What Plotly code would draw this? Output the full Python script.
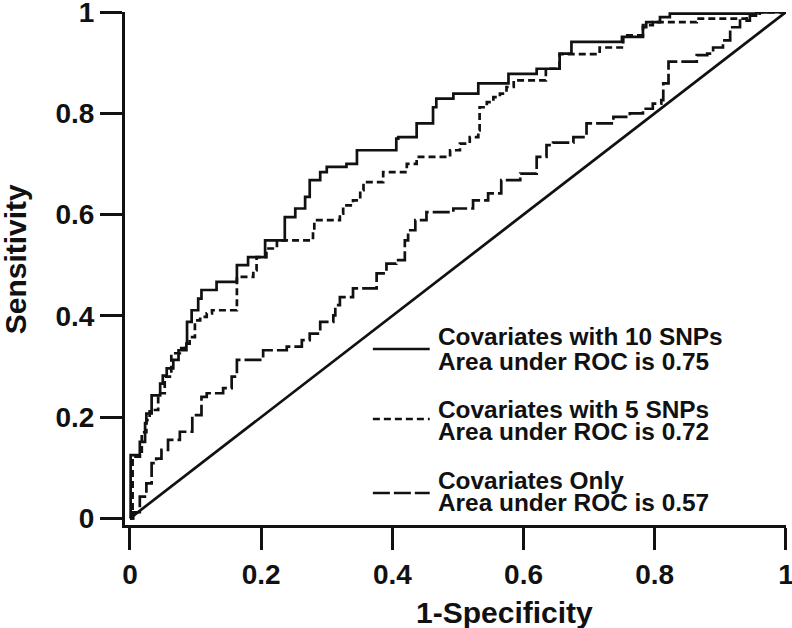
import plotly.graph_objects as go

# ---------------- data ----------------
fpr_10 = [0, 0.001, 0.015, 0.023, 0.025, 0.033, 0.046, 0.050, 0.056, 0.066, 0.074, 0.086, 0.087, 0.094, 0.104,
          0.109, 0.132, 0.163, 0.180, 0.206, 0.236, 0.252, 0.267, 0.274, 0.290, 0.300, 0.330, 0.346, 0.406, 0.409,
          0.437, 0.462, 0.467, 0.493, 0.531, 0.577, 0.620, 0.655, 0.673, 0.750, 0.782, 0.787, 0.808, 0.823, 0.955, 1.0]
tpr_10 = [0, 0.125, 0.151, 0.188, 0.207, 0.243, 0.266, 0.282, 0.296, 0.313, 0.332, 0.345, 0.388, 0.411, 0.434,
          0.451, 0.467, 0.500, 0.516, 0.549, 0.595, 0.612, 0.635, 0.668, 0.684, 0.694, 0.700, 0.727, 0.750, 0.753,
          0.780, 0.812, 0.829, 0.839, 0.859, 0.878, 0.888, 0.918, 0.941, 0.951, 0.970, 0.980, 0.990, 0.997, 1.0, 1.0]

fpr_5 = [0, 0.004, 0.018, 0.025, 0.030, 0.043, 0.053, 0.063, 0.076, 0.084, 0.091, 0.099, 0.107, 0.117, 0.125,
         0.163, 0.188, 0.193, 0.208, 0.224, 0.279, 0.281, 0.320, 0.325, 0.340, 0.351, 0.356, 0.386, 0.422, 0.437,
         0.488, 0.503, 0.518, 0.531, 0.533, 0.544, 0.554, 0.564, 0.574, 0.585, 0.634, 0.655, 0.716, 0.752, 0.782,
         0.797, 0.864, 0.940, 0.960, 1.0]
tpr_5 = [0, 0.122, 0.170, 0.194, 0.214, 0.247, 0.280, 0.326, 0.336, 0.345, 0.358, 0.391, 0.398, 0.405, 0.411,
         0.477, 0.490, 0.516, 0.533, 0.549, 0.569, 0.589, 0.602, 0.618, 0.628, 0.648, 0.664, 0.684, 0.700, 0.714,
         0.727, 0.740, 0.753, 0.766, 0.812, 0.822, 0.832, 0.839, 0.852, 0.865, 0.888, 0.917, 0.930, 0.954, 0.974,
         0.980, 0.987, 0.993, 1.0, 1.0]

fpr_cov = [0, 0.005, 0.015, 0.025, 0.033, 0.040, 0.048, 0.058, 0.076, 0.095, 0.109, 0.117, 0.142, 0.155, 0.163,
           0.203, 0.239, 0.262, 0.274, 0.290, 0.310, 0.313, 0.320, 0.340, 0.376, 0.391, 0.406, 0.419, 0.424, 0.435,
           0.452, 0.493, 0.523, 0.546, 0.566, 0.595, 0.620, 0.635, 0.645, 0.676, 0.696, 0.737, 0.762, 0.782, 0.797,
           0.810, 0.813, 0.821, 0.864, 0.880, 0.889, 0.904, 0.915, 0.930, 0.945, 0.960, 1.0]
tpr_cov = [0, 0.012, 0.043, 0.069, 0.109, 0.118, 0.135, 0.155, 0.171, 0.204, 0.240, 0.247, 0.257, 0.280, 0.313,
           0.332, 0.339, 0.352, 0.365, 0.388, 0.401, 0.421, 0.437, 0.454, 0.484, 0.503, 0.510, 0.549, 0.569, 0.589,
           0.605, 0.612, 0.628, 0.642, 0.668, 0.681, 0.714, 0.737, 0.742, 0.753, 0.780, 0.793, 0.800, 0.809, 0.819,
           0.826, 0.859, 0.902, 0.915, 0.918, 0.930, 0.944, 0.970, 0.983, 0.993, 1.0, 1.0]

chance_x = [0, 1]
chance_y = [0, 1]

series_line1 = ["Covariates with 10 SNPs", "Covariates with 5 SNPs", "Covariates Only"]
series_auc = [0.75, 0.72, 0.57]

tick_vals = [0, 0.2, 0.4, 0.6, 0.8, 1]
tick_text = ["0", "0.2", "0.4", "0.6", "0.8", "1"]

x_title = "1-Specificity"
y_title = "Sensitivity"

# ---------------- styles ----------------
FONT = "Liberation Sans, Arial, Helvetica, sans-serif"
INK = "#111111"
LW = 2.7
dashes = ["solid", "7px,4px", "17px,4px"]

fig = go.Figure()
curves = [(fpr_10, tpr_10), (fpr_5, tpr_5), (fpr_cov, tpr_cov)]
for (xs, ys), name, d in zip(curves, series_line1, dashes):
    fig.add_trace(go.Scatter(x=xs, y=ys, mode="lines", name=name, line_shape="hv",
                             line=dict(color=INK, width=LW, dash=d), showlegend=False))

fig.add_trace(go.Scatter(x=chance_x, y=chance_y, mode="lines", line=dict(color=INK, width=LW),
                         showlegend=False, name="chance"))

axis_common = dict(
    showline=True, linecolor=INK, linewidth=3, mirror=False,
    ticks="outside", ticklen=22, tickwidth=3, tickcolor=INK,
    tickvals=tick_vals, ticktext=tick_text,
    tickfont=dict(family=FONT, size=28, color=INK, weight="bold"),
    showgrid=False, zeroline=False, automargin=False,
    ticklabeloverflow="allow",
)

fig.update_layout(
    width=792, height=628,
    margin=dict(l=125, r=6, t=12, b=103, autoexpand=False),
    paper_bgcolor="white", plot_bgcolor="white",
    font=dict(family=FONT, color=INK),
    xaxis=dict(range=[-0.0076, 1.0001], **axis_common),
    yaxis=dict(range=[-0.0132, 1.0001], **axis_common),
    showlegend=False,
)

# axis titles
fig.add_annotation(text=x_title, xref="paper", yref="paper", x=0.5734, y=-0.1696,
                   xanchor="center", yanchor="middle", showarrow=False,
                   font=dict(family=FONT, size=30, color=INK, weight="bold"))
fig.add_annotation(text=y_title, xref="paper", yref="paper", x=-0.166, y=0.5185, textangle=-90,
                   xanchor="center", yanchor="middle", showarrow=False,
                   font=dict(family=FONT, size=30, color=INK, weight="bold"))

# legend (key lines + two text lines per series)
key_y = [0.3431, 0.2066, 0.0624]
text_y = [(0.367, 0.3183), (0.2261, 0.1819), (0.0877, 0.0429)]
for name, auc, d, ky, (t1, t2) in zip(series_line1, series_auc, dashes, key_y, text_y):
    fig.add_shape(type="line", xref="paper", yref="paper", x0=0.375, x1=0.461, y0=ky, y1=ky,
                  line=dict(color=INK, width=LW, dash=d))
    fig.add_annotation(text=name, xref="paper", yref="paper", x=0.470, y=t1,
                       xanchor="left", yanchor="middle", showarrow=False,
                       font=dict(family=FONT, size=24.4, color=INK, weight="bold"))
    fig.add_annotation(text=f"Area under ROC is {auc:.2f}", xref="paper", yref="paper", x=0.470, y=t2,
                       xanchor="left", yanchor="middle", showarrow=False,
                       font=dict(family=FONT, size=24.4, color=INK, weight="bold"))

fig.write_html("out.html", config={"displayModeBar": False, "staticPlot": True},
               post_script="document.body.style.margin='0px';document.body.style.overflow='hidden';")
